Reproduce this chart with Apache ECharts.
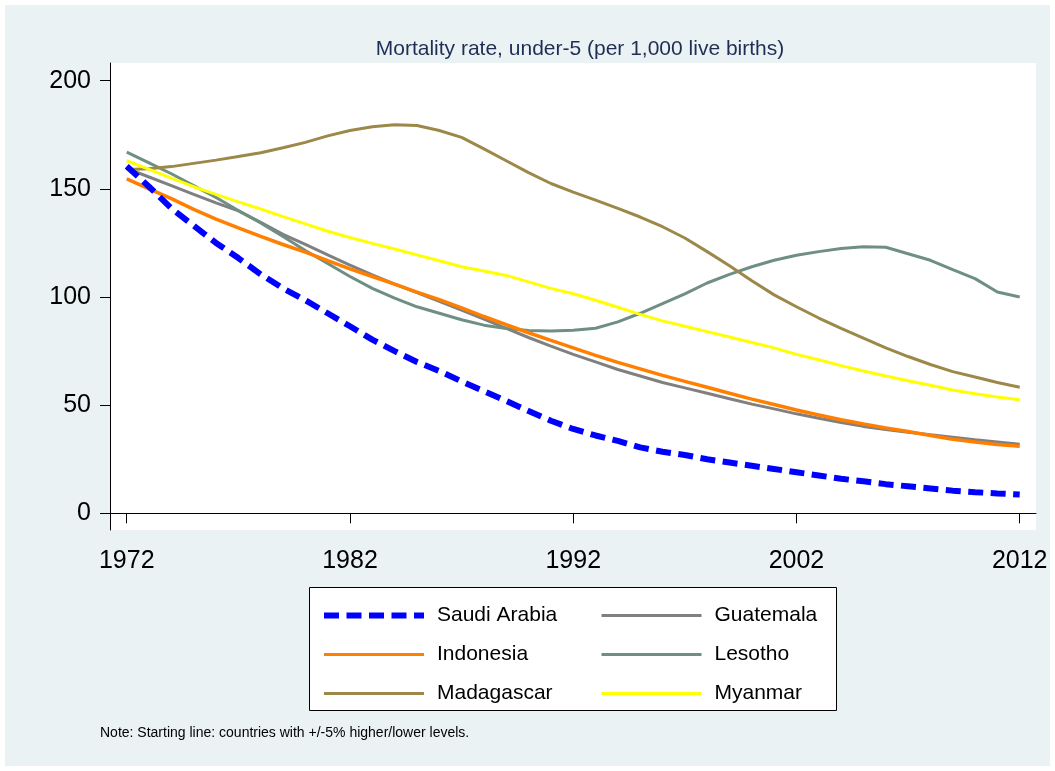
<!DOCTYPE html>
<html>
<head>
<meta charset="utf-8">
<script src="https://cdn.jsdelivr.net/npm/echarts@6/dist/echarts.min.js"></script>
<style>
  html, body { margin: 0; padding: 0; background: #fff; }
  .panel { position: absolute; left: 5px; top: 5px; width: 1045px; height: 761px; background: #eaf2f3; }
  #chart { position: absolute; left: 0; top: 0; width: 1055px; height: 771px; }
</style>
</head>
<body>
<div class="panel"></div>
<div id="chart"></div>
<script>
// years on the x axis
const years = []
for (let y = 1972; y <= 2012; y++) years.push(y)

const xTicks = [1972, 1982, 1992, 2002, 2012]
const yTicks = [0, 50, 100, 150, 200]

// under-5 mortality, per 1,000 live births
const saudiArabia = [160.5, 151, 141, 133, 125, 118, 110.5, 104, 98.5, 92.5, 86.5, 80.3, 75, 70, 65.8, 61, 56.5, 52, 47.3, 42.8,
  39, 36, 33.5, 30.5, 28.5, 27, 25, 23.5, 22, 20.5, 19, 17.5, 16, 14.8, 13.5, 12.5, 11.5, 10.5, 9.8, 9.2, 8.7]
const guatemala = [159.5, 155.5, 151.5, 147.5, 143.5, 139.8, 134.5, 129, 124.3, 119.5, 114.8, 110.3, 106, 102, 98, 94, 89.8, 85.5, 81.3, 77.3,
  73.5, 70, 66.5, 63.5, 60.5, 58, 55.5, 53, 50.5, 48.3, 46, 44, 42, 40.2, 38.8, 37.5, 36.3, 35.2, 34, 33, 32]
const indonesia = [154.6, 150, 145.5, 140.5, 136, 132, 128, 124.3, 120.8, 116.8, 113, 109.5, 106, 102.3, 98.8, 95, 91, 87.2, 83.5, 80,
  76.5, 73, 69.8, 66.8, 63.8, 61, 58.3, 55.5, 52.8, 50.3, 47.8, 45.5, 43.3, 41.3, 39.5, 37.8, 36, 34.3, 33, 31.8, 31]
const lesotho = [167, 162, 157, 151.5, 146, 140, 134.3, 128, 121.5, 115.5, 109.5, 104, 99.5, 95.5, 92.5, 89.5, 87, 85.5, 84.5, 84.3,
  84.7, 85.6, 88.5, 92.5, 97, 101.5, 106.5, 110.5, 114, 117, 119.3, 121, 122.4, 123.2, 123, 120, 117, 112.7, 108.5, 102.3, 100]
const madagascar = [159, 159.3, 160.3, 161.8, 163.3, 165, 166.7, 169, 171.5, 174.5, 177, 178.7, 179.6, 179.3, 177, 173.8, 168.5, 163, 157.5, 152.5,
  148.5, 144.8, 141, 137, 132.5, 127.3, 121, 114.5, 107.5, 101, 95.5, 90.3, 85.5, 81, 76.5, 72.5, 68.8, 65.5, 63, 60.5, 58.3]
const myanmar = [163, 159, 155, 151, 147.5, 144, 140.7, 137.2, 133.8, 130.4, 127.5, 124.8, 122.2, 119.5, 116.8, 114, 112, 110, 107, 104,
  101.5, 98.5, 95.3, 92, 89, 86.5, 84, 81.5, 79, 76.5, 73.5, 71, 68.3, 65.8, 63.5, 61.3, 59.2, 57, 55.3, 53.8, 52.5]

const font = 'Liberation Sans, Arial, Helvetica, sans-serif'

const chart = echarts.init(document.getElementById('chart'))

const pairs = (vals) => years.map((y, i) => [y, vals[i]])

const makeLine = (name, vals, color, width, type) => ({
  name: name,
  type: 'line',
  symbol: 'none',
  smooth: false,
  animation: false,
  lineStyle: { color: color, width: width, type: type || 'solid', cap: 'butt' },
  itemStyle: { color: color },
  data: pairs(vals)
})

// one legend per column so the two columns line up like the Stata key
const legendCol = (left, items) => ({
  data: items.map(n => ({ name: n, lineStyle: { width: n === 'Saudi Arabia' ? 6 : 3 } })),
  orient: 'vertical',
  left: left,
  top: 605,
  padding: 0,
  itemWidth: 100,
  itemHeight: 20,
  itemGap: 18,
  itemStyle: { opacity: 0 },
  textStyle: { color: '#000', fontSize: 21, fontFamily: font, padding: [0, 0, 0, 8] }
})

const option = {
  backgroundColor: 'transparent',
  animation: false,
  title: {
    text: 'Mortality rate, under-5 (per 1,000 live births)',
    left: 575,
    textAlign: 'center',
    top: 34,
    textStyle: { color: '#1f2e55', fontSize: 21, fontWeight: 'normal', fontFamily: font }
  },
  grid: {
    left: 110,
    top: 63,
    right: 19,
    bottom: 241,
    show: true,
    backgroundColor: '#fff',
    borderWidth: 0
  },
  xAxis: {
    type: 'value',
    min: 1971.25,
    max: 2012.73,
    splitLine: { show: false },
    axisLine: { show: true, lineStyle: { color: '#000', width: 1 } },
    axisTick: { show: true, length: 10, customValues: xTicks, lineStyle: { color: '#000', width: 1 } },
    axisLabel: { customValues: xTicks, formatter: v => String(v), color: '#000', fontSize: 25, fontFamily: font, margin: 19 }
  },
  yAxis: {
    type: 'value',
    min: -7.7,
    max: 208.2,
    splitLine: { show: false },
    axisLine: { show: true, lineStyle: { color: '#000', width: 1 } },
    axisTick: { show: true, length: 10, customValues: yTicks, lineStyle: { color: '#000', width: 1 } },
    axisLabel: { customValues: yTicks, color: '#000', fontSize: 25, fontFamily: font, margin: 19 }
  },
  legend: [
    legendCol(321, ['Saudi Arabia', 'Indonesia', 'Madagascar']),
    legendCol(600, ['Guatemala', 'Lesotho', 'Myanmar'])
  ],
  graphic: [
    {
      type: 'rect',
      z: 0,
      shape: { x: 309.5, y: 587.5, width: 527, height: 123 },
      style: { fill: '#fff', stroke: '#000', lineWidth: 1 }
    },
    {
      type: 'text',
      x: 100,
      y: 733,
      style: {
        text: 'Note: Starting line: countries with +/-5% higher/lower levels.',
        fill: '#000',
        font: '14px ' + font,
        textVerticalAlign: 'middle'
      }
    }
  ],
  series: [
    makeLine('Guatemala', guatemala, '#808080', 3),
    makeLine('Lesotho', lesotho, '#6f8f84', 3),
    makeLine('Madagascar', madagascar, '#9c8848', 3),
    makeLine('Myanmar', myanmar, '#ffff00', 3),
    makeLine('Indonesia', indonesia, '#ff7f00', 3.5),
    makeLine('Saudi Arabia', saudiArabia, '#0000ff', 6, [15, 7.5])
  ]
}

chart.setOption(option)
</script>
</body>
</html>
